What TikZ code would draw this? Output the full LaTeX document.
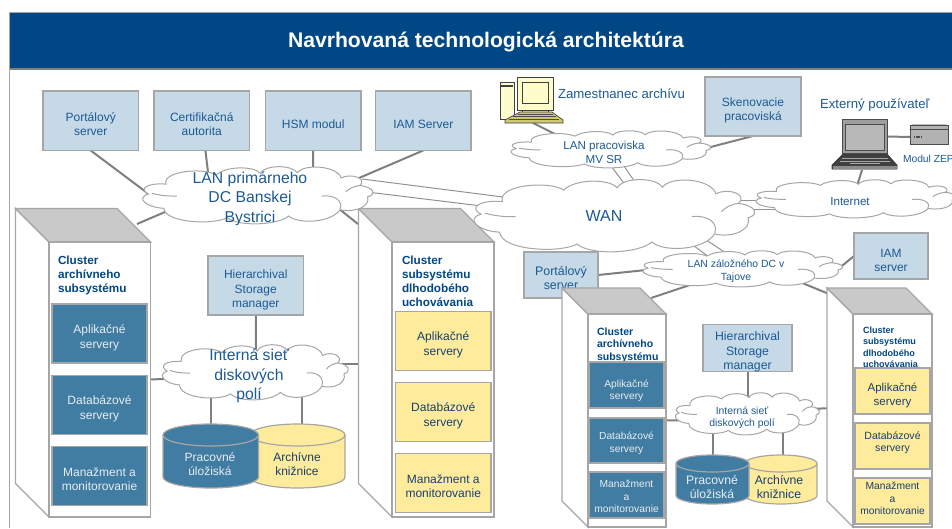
\documentclass[tikz,border=0pt]{standalone}
\usepackage{fontspec}
\setmainfont{Liberation Sans}
\pgfdeclarelayer{conn}
\pgfsetlayers{conn,main}
\definecolor{hdr}{HTML}{004785}
\definecolor{bluetxt}{HTML}{1C5A94}
\definecolor{darktxt}{HTML}{17406F}
\definecolor{lighttxt}{HTML}{E6EDF2}
\definecolor{lightbox}{HTML}{C5D9E7}
\definecolor{tealbox}{HTML}{417CA2}
\definecolor{yellowbox}{HTML}{FFEB9C}
\definecolor{edge}{HTML}{A6A6A6}
\definecolor{wire}{HTML}{7F7F7F}
\newcommand\fsz[2]{\fontsize{#1}{#2}\selectfont}
\tikzset{
  x=0.75pt,y=-0.75pt,
  boxbase/.style={draw=edge,line width=0.9pt,inner sep=0pt,outer sep=0pt,align=center},
  lightb/.style={boxbase,fill=lightbox,text=bluetxt,font=\fsz{9}{10.7}},
  tealb/.style={boxbase,fill=tealbox,text=lighttxt,font=\fsz{9}{10.7}},
  yellowb/.style={boxbase,fill=yellowbox,text=darktxt,font=\fsz{9}{10.7}},
  textlab/.style={text=bluetxt,inner sep=0pt,outer sep=0pt,align=center,font=\fsz{9}{10.7}},
  clusterlab/.style 2 args={text=hdr,inner sep=0pt,outer sep=0pt,align=left,anchor=north west,font=\bfseries\fsz{#1}{#2}},
  thick wire/.style={draw=wire,line width=1.5pt},
  thin wire/.style={draw=wire!85,line width=0.75pt},
}
% [text drop in px] name x1 y1 x2 y2 style text
\newcommand\tbox[8][3.5]{%
\pgfmathsetmacro\hh{max(0,6.5+1.5*#1)}%
\pgfmathsetmacro\dd{max(0,2-1.5*#1)}%
\node[#7,minimum width={(#5-#3)*0.75pt},minimum height={(#6-#4)*0.75pt}] (#2) at ({(#3+#5)/2},{(#4+#6)/2}) {\rule{0pt}{\hh pt}#8\rule[-\dd pt]{0pt}{0pt}};}
\newcommand\netcloud[4]{%
\begin{scope}[shift={(#1,#2)},x={#3*0.75pt},y={#4*0.75pt}]
\path[draw=edge,line width=0.75pt,fill=white]
 (-1,.05) .. controls (-1.1,.25) and (-1.0,.45) .. (-.84,.40)
 .. controls (-.88,.85) and (-.50,1.0) .. (-.38,.72)
 .. controls (-.30,1.03) and (-.04,1.05) .. (.02,.78)
 .. controls (.06,1.07) and (.30,1.10) .. (.36,.80)
 .. controls (.42,1.12) and (.72,1.05) .. (.76,.62)
 .. controls (.86,.80) and (1.0,.58) .. (.93,.35)
 .. controls (1.07,.28) and (1.08,.02) .. (1,-.05)
 .. controls (1.03,-.35) and (.90,-.62) .. (.75,-.50)
 .. controls (.66,-.98) and (.36,-1.0) .. (.28,-.72)
 .. controls (.18,-1.05) and (-.18,-1.1) .. (-.28,-.78)
 .. controls (-.42,-1.05) and (-.85,-.95) .. (-.86,-.45)
 .. controls (-1.02,-.42) and (-1.12,-.08) .. (-1,.05) -- cycle;
\draw[edge,line width=0.75pt] (-.97,.08) .. controls (-.88,-.02) and (-.80,-.02) .. (-.74,-.02);
\draw[edge,line width=0.75pt] (.58,-.02) .. controls (.70,.04) and (.78,-.2) .. (.75,-.48);
\draw[edge,line width=0.75pt] (.93,.35) .. controls (.86,.32) and (.82,.2) .. (.80,.12);
\end{scope}}
\newcommand\cyl[6]{%
\path[draw=edge,line width=0.9pt,fill=#6] (#1,#4-#5) arc[start angle=180,end angle=360,x radius={(#2-#1)/2*0.75pt},y radius={#5*0.75pt}]
 -- (#2,#3+#5) arc[start angle=0,end angle=180,x radius={(#2-#1)/2*0.75pt},y radius={#5*0.75pt}] -- cycle;
\draw[edge,line width=0.9pt] (#1,#3+#5) arc[start angle=180,end angle=360,x radius={(#2-#1)/2*0.75pt},y radius={#5*0.75pt}];}
% name xl yt xf xr yf yb
\newcommand\serverbox[7]{%
\path[draw=edge,line width=0.9pt,fill=white] (#2,#3) -- (#4,#6) -- (#4,#7) -- (#2,{#7-(#4-#2)}) -- cycle;
\path[draw=edge,line width=0.9pt,fill=black!21] (#2,#3) -- ({#5-(#4-#2)},#3) -- (#5,#6) -- (#4,#6) -- cycle;
\node[draw=edge,line width=0.9pt,fill=white,inner sep=0pt,outer sep=0pt,minimum width={(#5-#4)*0.75pt},minimum height={(#7-#6)*0.75pt}] (#1) at ({(#4+#5)/2},{(#6+#7)/2}) {};}
\begin{document}
\begin{tikzpicture}
\useasboundingbox (0,0) rectangle (952,528);
\clip (0,0) rectangle (952,528);
% frame and title
\draw[edge,line width=0.9pt] (9.5,528) -- (9.5,13) -- (952,13);
\path[fill=hdr] (9.5,13.5) rectangle (952,68.5);
\draw[black!50,line width=0.9pt] (9.5,69) -- (952,69);
\node[text=white,inner sep=0pt,font=\bfseries\fsz{15.85}{18}] (title) at (486,42) {Navrhovaná technologická architektúra};

% top servers, left DC
\tbox{portal}{43}{91}{138.5}{150.5}{lightb}{Portálový\\server}
\tbox{cert}{154}{91}{249.5}{150.5}{lightb}{Certifikačná\\autorita}
\tbox[3]{hsm}{265.5}{91}{361}{150.5}{lightb}{HSM modul}
\tbox[3]{iam}{375.5}{91}{471}{150.5}{lightb}{IAM Server}

% left DC cluster servers
\serverbox{sa}{15.5}{208.5}{49}{150.5}{242}{517}
\serverbox{sb}{358.5}{208.5}{392}{494}{242}{517}
\coordinate (sacorner) at (137,224);
\coordinate (sbcorner) at (358,224);
\coordinate (intaend) at (367,364);
\node[clusterlab={8.8}{10.5}] (sat) at (58,256) {Cluster\\archívneho\\subsystému};
\node[clusterlab={8.8}{10.5}] (sbt) at (402,256) {Cluster\\subsystému\\dlhodobého\\uchovávania};
\tbox[4.5]{a1}{52}{304}{147}{363}{tealb}{Aplikačné\\servery}
\tbox[4]{a2}{52}{375.5}{147}{434.5}{tealb}{Databázové\\servery}
\tbox[3]{a3}{52}{446.5}{147}{505.5}{tealb}{Manažment a\\monitorovanie}
\tbox[4]{b1}{395.5}{311.5}{491}{370.5}{yellowb}{Aplikačné\\servery}
\tbox[4]{b2}{395.5}{382.5}{491}{441.5}{yellowb}{Databázové\\servery}
\tbox[3.5]{b3}{395.5}{453.5}{491}{512.5}{yellowb}{Manažment a\\monitorovanie}
\tbox[4.5]{hsa}{208}{256}{303.5}{315}{lightb}{Hierarchival\\Storage\\manager}

\cyl{250}{345}{424}{488}{11}{yellowbox}
\cyl{163}{258.5}{424}{488}{11}{tealbox}
\node[textlab,text=lighttxt] (cyla) at (210,464) {Pracovné\\úložiská};
\node[textlab,text=darktxt] (cylb) at (297,464) {Archívne\\knižnice};

% right side top
\tbox[4]{sken}{705}{77}{801}{136}{lightb}{Skenovacie\\pracoviská}
\tbox[4]{iamz}{854}{233}{928}{279}{lightb}{IAM\\server}
\tbox[3]{portz}{524}{252}{598}{298}{lightb,font=\fsz{9.3}{10.7}}{Portálový\\server}
\node[textlab,anchor=west,font=\fsz{9.9}{12}] (zam) at (558,94) {Zamestnanec archívu};
\node[textlab,anchor=west,font=\fsz{9.9}{12}] (ext) at (820,105) {Externý používateľ};
\node[textlab,anchor=west,font=\fsz{7.7}{9}] (zep) at (903,159) {Modul ZEP};

% workstation
\draw[black!75,fill=yellow!20,line width=0.5pt] (500.5,82) rectangle (514,119.5);
\draw[black!75,line width=0.8pt] (501,86) -- (513,86);
\draw[black!75,fill=yellow!20,line width=0.5pt] (522,110) rectangle (548,114);
\node[draw=black!75,fill=yellow!20,line width=0.7pt,inner sep=0pt,outer sep=0pt,minimum width=27pt,minimum height=24.75pt] (pc) at (535,93.5) {};
\draw[black!75,line width=0.6pt] (522,82) rectangle (548,103);
\path[draw=black!75,fill=olive!45,line width=0.5pt] (505,123) -- (563,123) -- (563,120) -- (552,112) -- (520,112) -- (505,120) -- cycle;
\draw[black!70,line width=0.4pt] (509,119) -- (559,119) (513,116.5) -- (556,116.5) (518,114) -- (553,114);

% laptop
\path[draw=black!80,fill=black!75,line width=0.4pt] (843,154) -- (887,154) -- (897,165) -- (897,169) -- (832,169) -- (832,165) -- cycle;
\path[fill=black!45] (832.5,165.5) rectangle (896.5,168.5);
\draw[black!35,line width=0.4pt] (842,158) -- (888,158) (840,161) -- (890,161);
\path[fill=black!35] (850,162.5) rectangle (880,163.5);
\node[draw=black!70,fill=black!38,line width=0.7pt,inner sep=0pt,outer sep=0pt,minimum width=33.75pt,minimum height=25pt] (lap) at (864.5,136.5) {};
\draw[black!70,fill=black!28,line width=0.5pt] (845,124) rectangle (884,150);

% modem
\path[draw=black!70,fill=black!30,line width=0.5pt] (912,125) -- (946,125) -- (948,129) -- (910,129) -- cycle;
\node[draw=black!70,fill=black!30,line width=0.5pt,inner sep=0pt,outer sep=0pt,minimum width=28.5pt,minimum height=14.25pt] (modem) at (929,134.5) {};
\path[draw=black!70,fill=black!30,line width=0.5pt] (910,129) rectangle (948,144);
\foreach \dx in {0,2.2,4.4,6.6}{\path[fill=black!70] ({914+\dx},135.5) rectangle ({915.4+\dx},138);}

% right DC servers
\serverbox{sc}{562}{288}{588}{666}{314}{527}
\serverbox{sd}{827}{288}{853}{932}{314}{527}
\coordinate (sccorner) at (651,298);
\coordinate (sdcorner) at (829,294);
\coordinate (intbend) at (834,408);
\node[clusterlab={7.9}{9.4}] (sct) at (597,327.5) {Cluster\\archívneho\\subsystému};
\node[clusterlab={6.8}{8.7}] (sdt) at (863,326.5) {Cluster\\subsystému\\dlhodobého\\uchovávania};
\tbox[5]{c1}{589}{362}{664}{408}{tealb,font=\fsz{7.7}{9.2}}{Aplikačné\\servery}
\tbox[2]{c2}{589}{418}{664}{463}{tealb,font=\fsz{7.7}{9.6}}{Databázové\\servery}
\tbox[1]{c3}{589}{472}{664}{518}{tealb,font=\fsz{7.7}{9.7}}{Manažment\\a\\monitorovanie}
\tbox[4]{d1}{855}{368}{930}{414}{yellowb,font=\fsz{8.6}{10.5}}{Aplikačné\\servery}
\tbox[-3]{d2}{855}{423}{930}{469}{yellowb,font=\fsz{7.9}{9.6}}{Databázové\\servery}
\tbox[-1]{d3}{855}{478}{930}{524}{yellowb,font=\fsz{7.7}{9.4}}{Manažment\\a\\monitorovanie}
\tbox[4]{hsb}{703}{325}{792}{371}{lightb,font=\fsz{9.2}{10.6}}{Hierarchival\\Storage\\manager}
\cyl{745}{817}{455}{504}{8.5}{yellowbox}
\cyl{676}{749}{455}{504}{8.5}{tealbox}
\node[textlab,text=lighttxt,font=\fsz{9.2}{10.6}] (cylc) at (712,487) {Pracovné\\úložiská};
\node[textlab,text=darktxt,font=\fsz{9.2}{10.6}] (cyld) at (779,487) {Archívne\\knižnice};

% clouds
\netcloud{258}{195.5}{109.5}{28.5}
\netcloud{255.5}{372.5}{88.5}{27.5}
\netcloud{611}{149.5}{95}{18.5}
\netcloud{614.5}{216}{133.5}{36}
\netcloud{856.5}{199}{95.5}{19}
\netcloud{743}{269}{95}{18}
\netcloud{747.5}{414}{68.5}{21}
\node[textlab,font=\fsz{11.8}{14.6}] (lanp) at (250,198.5) {LAN primárneho\\DC Banskej\\Bystrici};
\node[textlab,font=\fsz{11.8}{14.4}] (inta) at (249,376) {Interná sieť\\diskových\\polí};
\node[textlab,font=\fsz{8.7}{10.6}] (lanm) at (604,152) {LAN pracoviska\\MV SR};
\node[textlab,font=\fsz{12}{14}] (wan) at (604,216) {WAN};
\node[textlab,font=\fsz{8.7}{10.6}] (inet) at (850,202) {Internet};
\node[textlab,font=\fsz{7.8}{9.6}] (lanz) at (736,271.5) {LAN záložného DC v\\Tajove};
\node[textlab,font=\fsz{7.8}{9.2}] (intb) at (742,418) {Interná sieť\\diskových polí};

% connectors
\begin{pgfonlayer}{conn}
\draw[thick wire] (portal.south) -- ([shift={(-100,-3.5)}]lanp.center);
\draw[thick wire] (cert.-83) -- ([shift={(-42,-26.5)}]lanp.center);
\draw[thick wire] (hsm.south) -- ([shift={(63,-26.5)}]lanp.center);
\draw[thick wire] (iam.south) -- ([shift={(109,-20.5)}]lanp.center);
\draw[thick wire] (sacorner) -- ([shift={(-85,13.5)}]lanp.center);
\draw[thick wire] (sbcorner) -- ([shift={(88,9.5)}]lanp.center);
\draw[thin wire] ([shift={(112,-19.5)}]lanp.center) -- ([shift={(-101,-19)}]wan.center);
\draw[thin wire] ([shift={(117,-6.5)}]lanp.center) -- ([shift={(-114,-9)}]wan.center);
\draw[thin wire] ([shift={(7,14)}]lanm.center) -- ([shift={(22,-30)}]wan.center);
\draw[thin wire] ([shift={(20,14)}]lanm.center) -- ([shift={(33,-31)}]wan.center);
\draw[thin wire] ([shift={(131,-16)}]wan.center) -- ([shift={(-80,-2)}]inet.center);
\draw[thin wire] ([shift={(136,-7)}]wan.center) -- ([shift={(-75,7)}]inet.center);
\draw[thin wire] ([shift={(82,24)}]wan.center) -- ([shift={(-27,-14.5)}]lanz.center);
\draw[thin wire] ([shift={(96,20)}]wan.center) -- ([shift={(-10,-18.5)}]lanz.center);
\draw[thick wire] ([shift={(-2,29.5)}]pc.center) -- ([shift={(-41,-14)}]lanm.center);
\draw[thick wire] (sken.south) -- ([shift={(99,-3)}]lanm.center);
\draw[thick wire] ([shift={(-2.5,33.5)}]lap.center) -- ([shift={(7,-16)}]inet.center);
\draw[thick wire] (lap.east) -- ([shift={(-19,2.5)}]modem.center);
\draw[thick wire] (iamz.west) -- ([shift={(98,1)}]lanz.center);
\draw[thick wire] (portz.east) -- ([shift={(-80,-2.5)}]lanz.center);
\draw[thick wire] (sccorner) -- ([shift={(-43,12.5)}]lanz.center);
\draw[thick wire] (sdcorner) -- ([shift={(59,8.5)}]lanz.center);
\draw[thick wire] (hsb.south) -- ([shift={(5.5,-15)}]intb.center);
\draw[thick wire] (sc.east) -- ([shift={(-50,2)}]intb.center);
\draw[thick wire] (intbend) -- ([shift={(66,-9)}]intb.center);
\draw[thick wire] ([shift={(-29,12)}]intb.center) -- ([shift={(1,-32)}]cylc.center);
\draw[thick wire] ([shift={(41,10)}]intb.center) -- ([shift={(4,-32)}]cyld.center);
\draw[thick wire] (hsa.south) -- ([shift={(7,-22)}]inta.center);
\draw[thick wire] (sa.east) -- ([shift={(-62,2)}]inta.center);
\draw[thick wire] (intaend) -- ([shift={(82,-12)}]inta.center);
\draw[thick wire] ([shift={(-38,15)}]inta.center) -- ([shift={(1,-40)}]cyla.center);
\draw[thick wire] ([shift={(53,14)}]inta.center) -- ([shift={(5,-40)}]cylb.center);
\end{pgfonlayer}
\end{tikzpicture}
\end{document}
